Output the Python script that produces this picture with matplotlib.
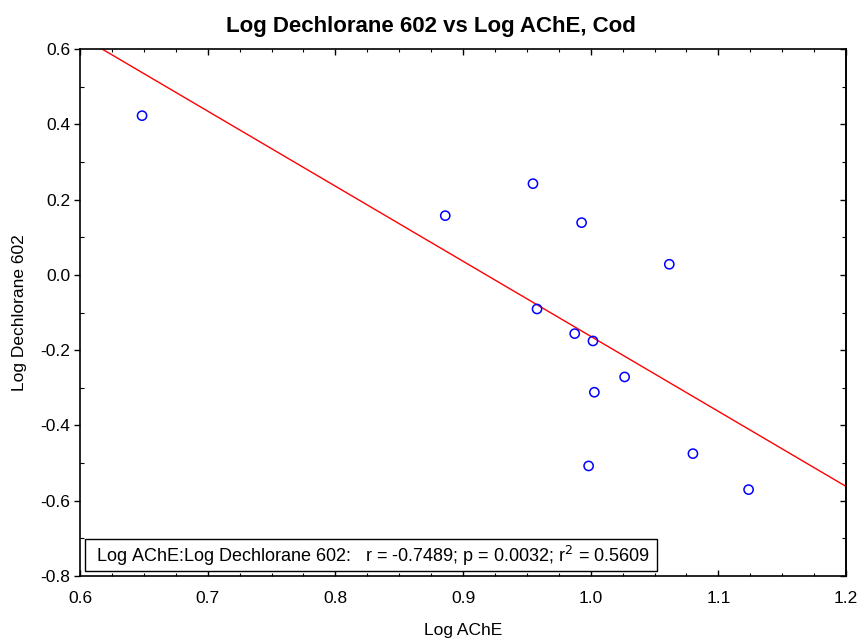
import numpy as np
import matplotlib
matplotlib.use("Agg")
import matplotlib.pyplot as plt
from matplotlib.patches import Rectangle
from matplotlib.ticker import MultipleLocator, FormatStrFormatter

plt.rcParams['font.family'] = ['Liberation Sans', 'DejaVu Sans']

# Log AChE (x) and Log Dechlorane 602 (y) for cod samples
log_ache = [0.6486, 0.8861, 0.9548, 0.9929, 1.0616, 0.9580, 0.9875,
            1.0018, 1.0266, 1.0029, 0.9984, 1.0801, 1.1237]
log_dec602 = [0.4229, 0.1573, 0.2423, 0.1387, 0.0281, -0.0906, -0.1561,
              -0.1756, -0.2712, -0.3118, -0.5076, -0.4749, -0.5705]

stats_label = "Log AChE:Log Dechlorane 602:   r = -0.7489; p = 0.0032; r$^2$ = 0.5609"

x = np.array(log_ache)
y = np.array(log_dec602)
slope, intercept = np.polyfit(x, y, 1)

fig = plt.figure(figsize=(8.61, 6.41), dpi=100)
ax = fig.add_axes([80 / 861, 1 - 576 / 641, 766 / 861, 527 / 641])

xl = np.array([0.6, 1.2])
ax.plot(xl, intercept + slope * xl, color='red', lw=1.0, zorder=2)
ax.scatter(x, y, s=44, facecolors='none', edgecolors='blue', linewidths=1.1, zorder=3)

ax.set_xlim(0.6, 1.2)
ax.set_ylim(-0.8, 0.6)
ax.xaxis.set_major_locator(MultipleLocator(0.1))
ax.xaxis.set_minor_locator(MultipleLocator(0.025))
ax.yaxis.set_major_locator(MultipleLocator(0.2))
ax.yaxis.set_minor_locator(MultipleLocator(0.1))
ax.xaxis.set_major_formatter(FormatStrFormatter('%.1f'))
ax.yaxis.set_major_formatter(FormatStrFormatter('%.1f'))

ax.tick_params(axis='x', which='major', direction='in', length=4, width=1,
               top=True, bottom=True, labelsize=12.5, pad=11)
ax.tick_params(axis='x', which='minor', direction='in', length=2.5, width=0.8,
               top=True, bottom=True)
ax.tick_params(axis='y', which='major', direction='out', length=4, width=1,
               left=True, right=False, labelsize=12.5, pad=3)
ax.tick_params(axis='y', which='minor', direction='in', length=3, width=0.8,
               left=True, right=False)

sec = ax.secondary_yaxis('right')
sec.yaxis.set_major_locator(MultipleLocator(0.2))
sec.yaxis.set_minor_locator(MultipleLocator(0.1))
sec.tick_params(which='major', direction='in', length=4, width=1, labelright=False)
sec.tick_params(which='minor', direction='in', length=3, width=0.8)
sec.spines['right'].set_linewidth(1.2)

for s in ax.spines.values():
    s.set_linewidth(1.2)

ax.set_xlabel("Log AChE", fontsize=12.5, labelpad=12)
ax.set_ylabel("Log Dechlorane 602", fontsize=12.5, labelpad=10)
fig.text(0.5, 1 - 32 / 641, "Log Dechlorane 602 vs Log AChE, Cod", fontsize=16,
         fontweight='bold', ha='center', va='baseline')

# correlation summary box in the lower-left corner
ax.add_patch(Rectangle((0.0065, 0.0095), 0.7468, 0.0607, transform=ax.transAxes,
                       facecolor='white', edgecolor='black', linewidth=1.0, zorder=4))
ax.text(0.0209, 0.0266, stats_label, transform=ax.transAxes, fontsize=13,
        ha='left', va='baseline', zorder=5)

fig.savefig("out.png", dpi=100)
